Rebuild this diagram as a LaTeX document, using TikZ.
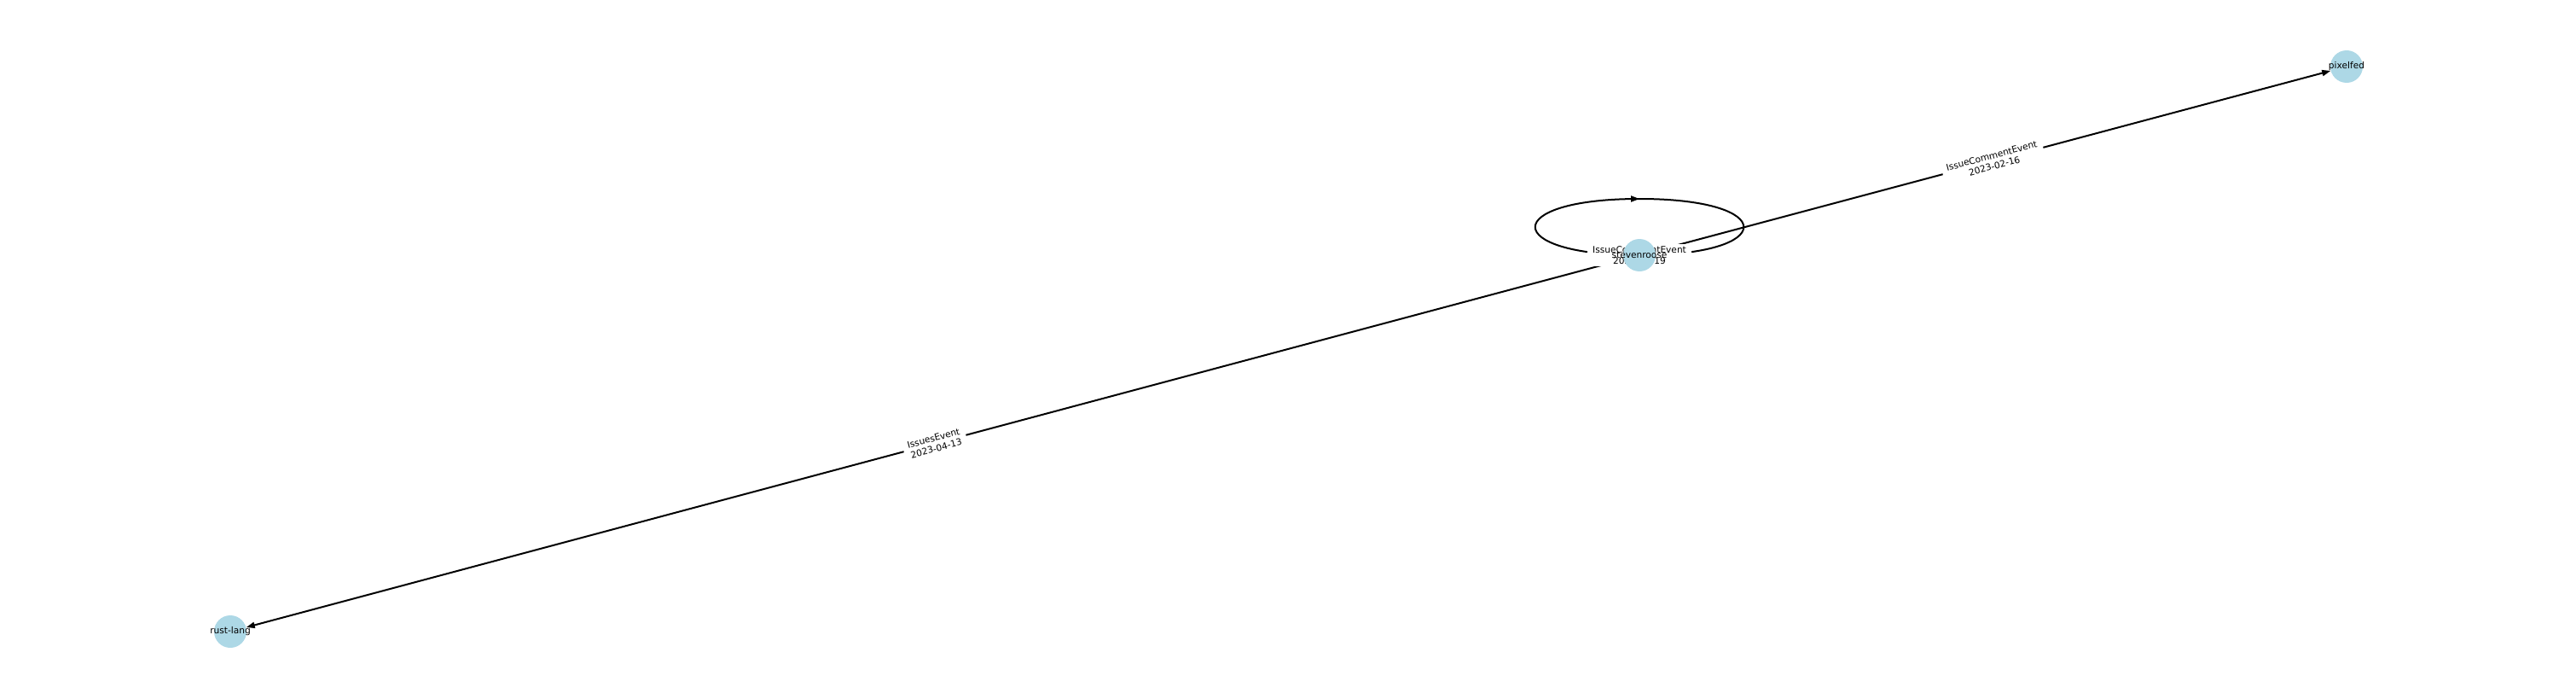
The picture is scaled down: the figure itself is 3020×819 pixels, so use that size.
\documentclass[tikz,border=0pt]{standalone}
\usepackage{fontspec}
\setmainfont{DejaVu Sans}
\usetikzlibrary{arrows.meta,backgrounds,decorations.markings}
\definecolor{nodeblue}{RGB}{173,216,230}
\begin{document}
\begin{tikzpicture}[
      x=0.5pt, y=-0.5pt,
      font=\fontsize{5.3pt}{6.2pt}\selectfont,
      repo/.style={
        circle,
        fill=nodeblue,
        minimum size=19pt,
        inner sep=0pt,
        label={[inner sep=0pt]center:#1}
      },
      event/.style={
        line width=1pt,
        -{Triangle[length=5pt,width=3.5pt]}
      },
      loopevent/.style={
        line width=1pt,
        postaction={decorate},
        decoration={markings, mark=at position 0.5 with {\arrow{Triangle[length=5pt,width=3.5pt]}}}
      },
      evlabel/.style={
        fill=white,
        align=center,
        inner xsep=3pt,
        inner ysep=1.5pt
      }
    ]

    \useasboundingbox (0,0) rectangle (3020,819);

    % Repositories
    \node[repo=stevenroose] (stevenroose) at (1922,299) {};
    \node[repo=pixelfed] (pixelfed) at (2751,78) {};
    \node[repo=rust-lang] (rustlang) at (270,740) {};

    \begin{scope}[on background layer]
    % Events
    \draw[event] (stevenroose) -- node[evlabel, sloped] {IssueCommentEvent\\2023-02-16} (pixelfed);
    \draw[event] (stevenroose) -- node[evlabel, sloped] {IssuesEvent\\2023-04-13} (rustlang);

    % Self loop
    \draw[loopevent] (stevenroose.center) .. controls +(-163,0) and +(-163,0) .. ([yshift=33pt]stevenroose.center)
      .. controls +(163,0) and +(163,0) .. (stevenroose.center);
    \node[evlabel] (looplabel) at (stevenroose.center) {IssueCommentEvent\\2023-02-19};
    \end{scope}
    \end{tikzpicture}
\end{document}
